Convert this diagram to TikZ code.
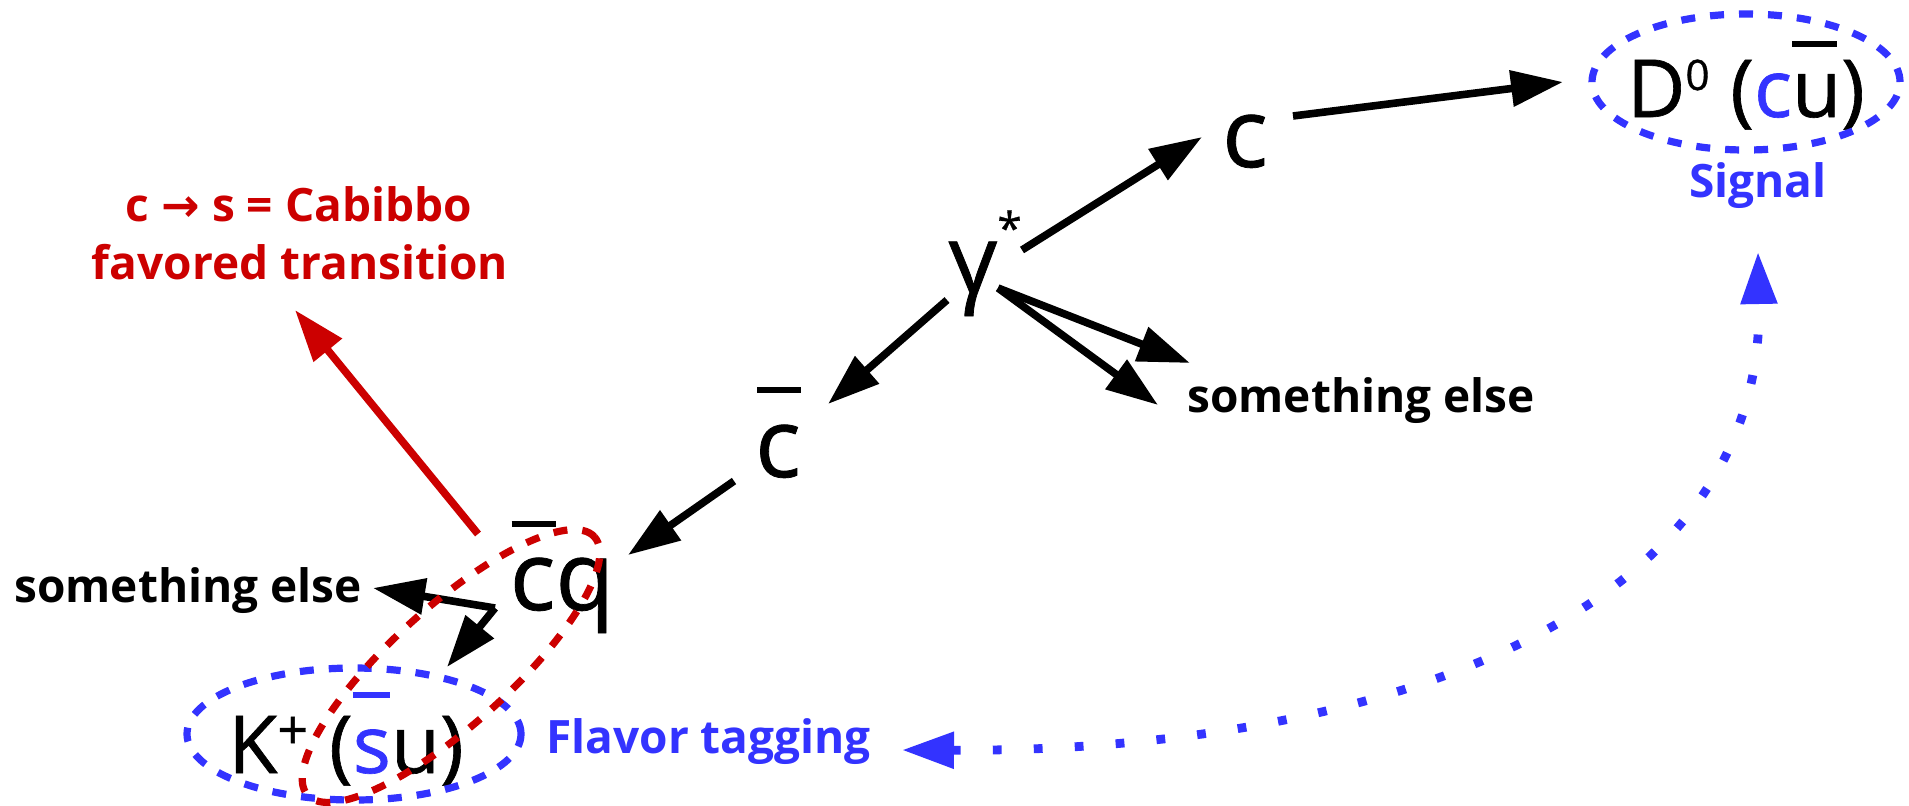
\documentclass[tikz,border=0pt]{standalone}
\usepackage{fontspec}
\setmainfont{Open Sans}
\newfontfamily\heavy[FakeBold=0.8]{Open Sans}
\newfontfamily\arrowfont{DejaVu Sans}
\usetikzlibrary{arrows.meta,shapes.geometric}
\definecolor{myblue}{RGB}{51,51,255}
\definecolor{myred}{RGB}{204,0,0}
\newcommand{\qbar}[3]{\rlap{\hspace*{#1}\raisebox{#2}{\rule{#3}{3.2pt}}}}
\begin{document}
\begin{tikzpicture}[x=0.5pt,y=-0.5pt,
  conn/.style={line width=3.8pt,-{Triangle[length=26pt,width=17.5pt]}},
  quark/.style={font=\heavy\fontsize{48}{48}\selectfont, inner sep=0pt, anchor=base},
  meson/.style={font=\heavy\fontsize{40}{40}\selectfont, inner sep=0pt, anchor=base},
  lbl/.style={font=\fontsize{23}{29}\selectfont\bfseries, inner sep=0pt, anchor=base west},
  dellipse/.style={ellipse, draw, line width=3.6pt, dash pattern=on 7pt off 7.5pt, inner sep=0pt},
  tagline/.style={draw=myblue, line width=4.4pt, dash pattern=on 4.4pt off 16.1pt,
    {Triangle[length=26pt,width=17.5pt]}-{Triangle[length=26pt,width=17.5pt]}}
]
\useasboundingbox (0,0) rectangle (1909,805);

% particles
\node[quark] (gam) at (985,293) {γ\raisebox{24.5pt}{\fontsize{22}{22}\selectfont *}};
\node[quark] (cq) at (1245,167) {c};
\node[quark] (cbar) at (778,477) {\qbar{1pt}{42pt}{22pt}c};
\node[quark] (cbq) at (562,610) {\qbar{1pt}{41.5pt}{22pt}cq};
\node[meson] (D) at (1746,117) {D\raisebox{13.5pt}{\fontsize{21}{21}\selectfont 0} (\textcolor{myblue}{c}\qbar{0pt}{35pt}{22.5pt}u)};
\node[meson] (K) at (346,773) {K\raisebox{12pt}{\fontsize{27}{27}\selectfont +} (\textcolor{myblue}{\qbar{0pt}{37.5pt}{18.5pt}s}u)};

% labels
\node[lbl] (seR) at (1187,412) {something else};
\node[lbl] (seL) at (14,602) {something else};
\node[lbl, text=myblue] (flav) at (546,753) {Flavor tagging};
\node[lbl, anchor=base, text=myblue] (sig) at (1758,197) {Signal};
\node[lbl, anchor=base, text=myred] (cab1) at (299,221) {c {\arrowfont\bfseries →} s = Cabibbo};
\node[lbl, anchor=base, text=myred] (cab2) at (300,279) {favored transition};

% connector end points
\coordinate (gC) at (1022,250);   \coordinate (cIn) at (1202,137);
\coordinate (cOut) at (1293,116); \coordinate (dIn) at (1563,82);
\coordinate (gS) at (998,288);    \coordinate (seRa) at (1190,363);
\coordinate (seRb) at (1158,405);
\coordinate (gB) at (947,300);    \coordinate (cbIn) at (828,404);
\coordinate (cbOut) at (734,481); \coordinate (cbqIn) at (628,555);
\coordinate (cbqOut) at (495,608); \coordinate (seLin) at (373,588);
\coordinate (kIn) at (447,667);
\coordinate (redOut) at (478,534); \coordinate (cabIn) at (295,310);
\coordinate (flavIn) at (902,750); \coordinate (sigIn) at (1758,252);

% connectors
\draw[conn] (gC) -- (cIn);
\draw[conn] (cOut) -- (dIn);
\draw[conn] (gS) -- (seRa);
\draw[conn] (gS) -- (seRb);
\draw[conn] (gB) -- (cbIn);
\draw[conn] (cbOut) -- (cbqIn);
\draw[conn] (cbqOut) -- (seLin);
\draw[conn] (cbqOut) -- (kIn);
\draw[conn, myred] (redOut) -- (cabIn);
\draw[tagline] (flavIn) .. controls (1350,752) and (1765,630) .. (sigIn);

% ellipses
\node[dellipse, draw=myblue, minimum width=154pt, minimum height=68pt] (Dell) at (1746,82) {};
\node[dellipse, draw=myblue, minimum width=167pt, minimum height=66pt] (Kell) at (354,734) {};
\node[dellipse, draw=myred, minimum width=193pt, minimum height=59pt, rotate=42] (cqell) at (451,666) {};
\end{tikzpicture}
\end{document}
